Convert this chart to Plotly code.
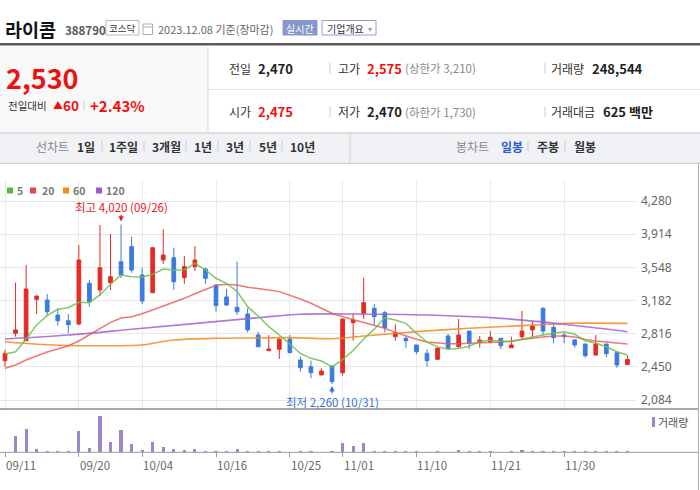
import plotly.graph_objects as go

W, H = 700, 490
def px(x): return x / W
def py(y): return 1 - y / H

# ---------------- data ----------------
dates = ["09/11","09/12","09/13","09/14","09/15","09/18","09/19","09/20","09/21","09/22",
         "09/25","09/26","09/27","10/04","10/05","10/06","10/10","10/11","10/12","10/13",
         "10/16","10/17","10/18","10/19","10/20","10/23","10/24","10/25","10/26","10/27",
         "10/30","10/31","11/01","11/02","11/03","11/06","11/07","11/08","11/09","11/10",
         "11/13","11/14","11/15","11/16","11/17","11/20","11/21","11/22","11/23","11/24",
         "11/27","11/28","11/29","11/30","12/01","12/04","12/05","12/06","12/07","12/08"]
open_ = [2518,2820,2738,3195,3188,3022,2959,2923,3372,3298,3378,3610,3776,3463,3268,3629,3654,3434,3555,3530,
         3353,3221,3107,3033,2801,2628,2644,2757,2525,2450,2360,2459,2385,2937,3041,3096,3047,2783,2765,2691,
         2599,2533,2790,2672,2845,2721,2727,2765,2661,2783,2857,3096,2886,2801,2746,2702,2581,2702,2606,2475]
high = [2636,3379,3574,3232,3254,3096,3033,3794,3408,4015,3916,4020,3886,3544,3765,3968,3765,3673,3783,3544,
        3353,3309,3610,3096,2838,2801,2783,2801,2562,2518,2434,2459,2978,3033,3434,3143,3066,2919,2790,2691,
        2644,2672,2812,2978,2845,2790,2845,2765,2783,3066,2956,3107,2930,2827,2757,2702,2801,2702,2617,2575]
low = [2450,2783,2738,3033,3014,2904,2820,2910,3114,3232,3298,3427,3489,3143,3268,3585,3298,3364,3508,3364,
       3058,3121,3022,2831,2672,2628,2536,2606,2396,2324,2360,2260,2352,2738,2978,2912,2831,2738,2661,2588,
       2450,2533,2636,2661,2644,2661,2710,2647,2661,2757,2765,2794,2710,2710,2661,2551,2573,2559,2440,2470]
close = [2599,2857,3309,3232,3058,2959,2915,3629,3169,3544,3445,3463,3519,3176,3765,3684,3389,3555,3629,3427,
         3125,3132,3058,2857,2672,2647,2754,2606,2440,2385,2404,2286,2978,2967,3158,3003,2882,2827,2738,2617,
         2518,2655,2655,2801,2716,2746,2776,2683,2691,2845,2901,2845,2772,2783,2691,2573,2702,2595,2470,2530]
volume = [80000,6680000,9320000,1320000,520000,520000,520000,8520000,1600000,14520000,
          4120000,8920000,3480000,920000,4120000,2120000,1320000,920000,1320000,520000,
          520000,520000,1320000,520000,520000,150000,130000,110000,140000,160000,
          120000,180000,3720000,2520000,3720000,520000,520000,520000,150000,130000,
          120000,140000,110000,920000,160000,130000,150000,120000,140000,920000,
          520000,520000,200000,170000,150000,130000,520000,180000,220000,248544]
ma5 = [2592,2617,2757,2912,3014,3085,3103,3162,3158,3243,3361,3463,3445,3438,3471,3530,3519,3519,3592,3519,
       3427,3372,3280,3114,3010,2893,2801,2698,2599,2544,2514,2450,2530,2630,2757,2866,2992,2967,2930,2820,
       2724,2670,2645,2651,2678,2730,2742,2735,2727,2757,2783,2801,2820,2838,2809,2738,2710,2672,2617,2581]
ma20 = [2434,2470,2525,2573,2614,2647,2683,2735,2801,2875,2941,2989,3003,3036,3077,3121,3162,3206,3257,3306,
        3350,3361,3353,3328,3317,3298,3280,3243,3199,3151,3096,3041,3003,2970,2945,2910,2875,2830,2790,2755,
        2725,2712,2705,2705,2710,2713,2716,2724,2735,2752,2768,2779,2790,2790,2779,2752,2735,2724,2713,2702]
ma60_idx = [0,3,6,9,12,13,16,20,24,27,31,34,39,44,50,53,59]
ma60 = [2727,2700,2685,2683,2685,2691,2746,2765,2768,2772,2760,2790,2838,2875,2910,2930,2930]
ma120_idx = [0,6,12,24,28,33,40,47,53,59]
ma120 = [2757,2801,2864,2992,3030,3033,3022,2985,2920,2838]

price_ticks = [2084,2450,2816,3182,3548,3914,4280]
date_ticks = ["09/11","09/20","10/04","10/16","10/25","11/01","11/10","11/21","11/30"]
ma_names = ["5","20","60","120"]

RED = "#e42b24"
BLUE = "#3a7be0"
MA_COL = ["#6cc24a", "#ee5555", "#f58a1f", "#a062d2"]
LEG_COL = ["#5cb83a", "#e84545", "#f08a1c", "#9c5ccc"]
VOL_COL = "#9b87c9"
FONT = "Noto Sans CJK KR"

idx = list(range(len(dates)))
tickvals = [dates.index(d) for d in date_ticks]

fig = go.Figure()
fig.add_trace(go.Candlestick(
    x=idx, open=open_, high=high, low=low, close=close,
    increasing=dict(line=dict(color=RED, width=1), fillcolor=RED),
    decreasing=dict(line=dict(color=BLUE, width=1), fillcolor=BLUE),
    whiskerwidth=0, xaxis="x", yaxis="y", showlegend=False, hoverinfo="skip"))
fig.add_trace(go.Scatter(x=ma60_idx, y=ma60, mode="lines", line=dict(color=MA_COL[2], width=1.6, shape="spline", smoothing=0.8), opacity=0.85, showlegend=False))
fig.add_trace(go.Scatter(x=ma120_idx, y=ma120, mode="lines", line=dict(color=MA_COL[3], width=1.6, shape="spline", smoothing=0.8), opacity=0.85, showlegend=False))
fig.add_trace(go.Scatter(x=idx, y=ma20, mode="lines", line=dict(color=MA_COL[1], width=1.5), opacity=0.8, showlegend=False))
fig.add_trace(go.Scatter(x=idx, y=ma5, mode="lines", line=dict(color=MA_COL[0], width=1.5), opacity=0.85, showlegend=False))
fig.add_trace(go.Bar(x=idx, y=volume, marker=dict(color=VOL_COL, line=dict(width=0)), width=0.3,
                     xaxis="x2", yaxis="y2", showlegend=False, hoverinfo="skip"))

step = 10.55
x0 = 5
xr = [-x0 / step, (636 - x0) / step]

ann = []
shapes = []

def txt(x, y, s, size=12, color="#333", bold=False, anchor="left", family=FONT):
    ann.append(dict(x=px(x), y=py(y), xref="paper", yref="paper", text=("<b>%s</b>" % s) if bold else s,
                    showarrow=False, xanchor=anchor, yanchor="middle", borderpad=0,
                    font=dict(size=size, color=color, family=family)))

def rect(x0_, y0_, x1_, y1_, fill=None, line=None, lw=1):
    shapes.append(dict(type="rect", xref="paper", yref="paper", x0=px(x0_), x1=px(x1_), y0=py(y0_), y1=py(y1_),
                       fillcolor=fill if fill else "rgba(0,0,0,0)",
                       line=dict(color=line if line else "rgba(0,0,0,0)", width=lw if line else 0), layer="below"))

def hline(xa, xb, y, color, w=1, layer="above"):
    shapes.append(dict(type="line", xref="paper", yref="paper", x0=px(xa), x1=px(xb), y0=py(y), y1=py(y),
                       line=dict(color=color, width=w), layer=layer))

def vline(x, ya, yb, color, w=1, layer="above"):
    shapes.append(dict(type="line", xref="paper", yref="paper", x0=px(x), x1=px(x), y0=py(ya), y1=py(yb),
                       line=dict(color=color, width=w), layer=layer))

# ---------- header ----------
txt(4, 29, "라이콤", 18.5, "#111", True)
txt(64, 30, "388790", 11.5, "#555", True)
rect(106, 20.5, 139, 35, fill="#fff", line="#bbb")
txt(122.5, 28, "코스닥", 9.5, "#333", anchor="center")
rect(143, 24, 152.5, 34.5, fill="#fff", line="#aaa")
hline(143, 152.5, 27, "#aaa")
txt(157, 29.5, "2023.12.08 기준(장마감)", 11, "#666")
rect(283, 20.5, 317, 35, fill="#8796cc", line="#8796cc")
txt(300, 28, "실시간", 10, "#fff", anchor="center")
rect(322, 20.5, 376, 35, fill="#fff", line="#8e9fd6")
txt(326, 28, "기업개요", 10, "#333")
txt(367, 28, "▾", 8, "#99a")
hline(0, 700, 44.3, "#5a5a5a", 2.5)

rect(0, 45.5, 208, 133, fill="#f9f9f9")
vline(208, 45.5, 133, "#dddddd")
hline(208, 700, 89.5, "#e6e6e6")

txt(5, 77, "2,530", 27, "#ee1111", True)
txt(7, 105, "전일대비", 10.5, "#333")
txt(52, 104.5, "▲", 10, "#ee1111")
txt(62, 105, "60", 13.5, "#ee1111", True)
vline(84, 100, 111, "#cccccc")
txt(89, 105, "+2.43%", 15, "#ee1111", True)

for (ry, items) in [(68.3, [("전일", "2,470", "#222", None), ("고가", "2,575", "#ee1111", "(상한가 3,210)"), ("거래량", "248,544", "#222", None)]),
                    (111.7, [("시가", "2,475", "#ee1111", None), ("저가", "2,470", "#222", "(하한가 1,730)"), ("거래대금", "625 백만", "#222", None)])]:
    for (lx, vx), (lab, val, col, extra) in zip([(228, 257), (337, 366), (550, None)], items):
        txt(lx, ry, lab, 12, "#333")
        vxx = vx if vx else (591 if lab == "거래량" else 602)
        txt(vxx, ry, val, 13, col, True)
        if extra:
            txt(404, ry, extra, 11.5, "#888")
    vline(330, ry - 5.5, ry + 5.5, "#cccccc")
    vline(545, ry - 5.5, ry + 5.5, "#cccccc")

# toolbar
rect(0, 133, 700, 163, fill="#f1f2f6")
hline(0, 700, 133, "#c6c6c6")
hline(0, 700, 163.3, "#c6c6c6")
vline(350, 133, 163, "#d0d0d0")
txt(35, 146, "선차트", 12, "#888")
for x_, s in [(76, "1일"), (108, "1주일"), (151, "3개월"), (193, "1년"), (225, "3년"), (258, "5년"), (289, "10년")]:
    txt(x_, 146, s, 12, "#333", True)
for x_ in [102, 144, 186, 218, 250, 282, 528, 565]:
    vline(x_, 141, 151, "#cccccc")
txt(455, 146, "봉차트", 12, "#888")
txt(500, 146, "일봉", 12, "#2a5bd0", True)
txt(536, 146, "주봉", 12, "#333", True)
txt(573, 146, "월봉", 12, "#333", True)

# chart legend
for (sx, tx), name, c in zip([(7, 16), (30, 41), (63, 72), (96, 105)], ma_names, LEG_COL):
    rect(sx, 187.5, sx + 6, 193.5, fill=c)
    txt(tx, 190.5, name, 10.5, "#777", True)

# volume legend
rect(652, 417, 655, 427, fill=VOL_COL)
txt(657, 422, "거래량", 11, "#555")

# borders
hline(0, 699, 409, "#8c8c8c", 1.5)
vline(698.5, 163.5, 490, "#b0b0b0")
hline(0, 699, 452.3, "#999999", 1)

# date labels
for d in date_ticks:
    ann.append(dict(x=dates.index(d), y=py(465), xref="x", yref="paper", text=d, showarrow=False,
                    xanchor="left", yanchor="middle", xshift=-1,
                    font=dict(size=11.5, color="#666", family=FONT)))

# high / low markers
hi_i = high.index(max(high))
lo_i = low.index(min(low))
ann.append(dict(x=hi_i, y=max(high), xref="x", yref="y", text="최고 %s (%s)" % (format(max(high), ","), dates[hi_i]),
                showarrow=True, arrowhead=2, arrowsize=0.9, arrowwidth=1.2, arrowcolor="#e8201d", ax=0, ay=-18, standoff=3,
                borderpad=0, font=dict(size=11.5, color="#e8201d", family=FONT)))
ann.append(dict(x=lo_i, y=min(low), xref="x", yref="y", text="최저 %s (%s)" % (format(min(low), ","), dates[lo_i]),
                showarrow=True, arrowhead=2, arrowsize=0.9, arrowwidth=1.2, arrowcolor="#3a6fd6", ax=0, ay=18, standoff=2,
                borderpad=0, font=dict(size=11.5, color="#3a6fd6", family=FONT)))

fig.update_layout(
    width=W, height=H, margin=dict(l=0, r=0, t=0, b=0),
    paper_bgcolor="white", plot_bgcolor="rgba(0,0,0,0)",
    font=dict(family=FONT),
    showlegend=False, boxgap=0.5, bargap=0,
    xaxis=dict(domain=[0, 636 / W], range=xr, anchor="y", tickvals=tickvals, showticklabels=False,
               showgrid=True, gridcolor="#ebebeb", zeroline=False, rangeslider=dict(visible=False), ticks=""),
    yaxis=dict(domain=[py(409), py(180)], range=[1984.7, 4511.7], side="right", anchor="x",
               tickvals=price_ticks, ticktext=[format(v, ",") for v in price_ticks],
               tickfont=dict(size=12, color="#666", family="Noto Sans"), showgrid=True, gridcolor="#e8e8e8",
               zeroline=False, ticks="", ticklabelstandoff=4),
    xaxis2=dict(domain=[0, 636 / W], range=xr, anchor="y2", tickvals=tickvals, showticklabels=False,
                showgrid=False, zeroline=False, ticks="outside", ticklen=4, tickcolor="#999"),
    yaxis2=dict(domain=[py(452.3), py(411)], range=[0, 16.52e6], visible=False),
    annotations=ann, shapes=shapes,
)

fig.write_html("out.html")
